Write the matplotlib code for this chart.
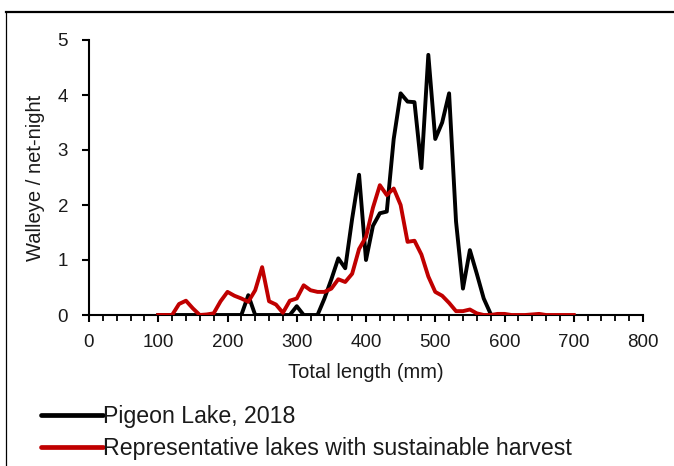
import matplotlib
matplotlib.use("Agg")
import matplotlib.pyplot as plt
from matplotlib.lines import Line2D
from matplotlib.ticker import MultipleLocator

plt.rcParams['font.family'] = ['Liberation Sans', 'DejaVu Sans']

# ----------------------------
# Data (walleye per net-night by 10 mm length bin)
# ----------------------------
pigeon_lengths = list(range(100, 590, 10))
pigeon_catch = [0, 0, 0, 0, 0, 0, 0, 0, 0, 0, 0, 0, 0,
                0.36, 0, 0, 0, 0, 0, 0,
                0.16, 0, 0, 0,
                0.3, 0.65, 1.03, 0.85, 1.75, 2.55, 1.0, 1.62, 1.85, 1.88,
                3.2, 4.03, 3.88, 3.87, 2.67, 4.73, 3.2, 3.5, 4.03, 1.7,
                0.48, 1.18, 0.75, 0.3, 0.02]

ref_lengths = list(range(100, 710, 10))
ref_catch = [0, 0, 0, 0.2, 0.26, 0.12, 0.0, 0.01, 0.03, 0.25,
             0.42, 0.35, 0.3, 0.24, 0.45, 0.87, 0.25, 0.19, 0.04, 0.26,
             0.3, 0.54, 0.45, 0.42, 0.42, 0.48, 0.65, 0.6, 0.75, 1.2,
             1.42, 1.95, 2.36, 2.18, 2.3, 2.0, 1.33, 1.35, 1.1, 0.7,
             0.42, 0.35, 0.22, 0.07, 0.07, 0.1, 0.03, 0.0, 0.0, 0.02,
             0.02, 0.0, 0.0, 0.0, 0.01, 0.02, 0.0, 0, 0, 0, 0]

labels = ['Pigeon Lake, 2018', 'Representative lakes with sustainable harvest']
colors_ = ['#000000', '#C00000']

W, H = 674, 466
fig = plt.figure(figsize=(W / 100, H / 100), dpi=100)

# chart area border (cropped Excel frame)
fig.add_artist(Line2D([6 / W, 1], [1 - 12 / H, 1 - 12 / H], color='black', lw=1.6))
fig.add_artist(Line2D([6 / W, 6 / W], [0, 1 - 12 / H], color='black', lw=0.9))

ax = fig.add_axes([89 / W, 1 - 315 / H, (643 - 89) / W, (315 - 40) / H])
ax.plot(pigeon_lengths, pigeon_catch, color=colors_[0], lw=2.8, solid_joinstyle='round', zorder=3)
ax.plot(ref_lengths, ref_catch, color=colors_[1], lw=2.8, solid_joinstyle='round', zorder=4)

ax.set_xlim(0, 800)
ax.set_ylim(0, 5)
ax.xaxis.set_major_locator(MultipleLocator(100))
ax.xaxis.set_minor_locator(MultipleLocator(20))
ax.yaxis.set_major_locator(MultipleLocator(1))

for side in ['top', 'right']:
    ax.spines[side].set_visible(False)
for side in ['left', 'bottom']:
    ax.spines[side].set_linewidth(1.5)

txt = '#1a1a1a'
ax.tick_params(axis='both', which='major', direction='out', length=5, width=1.5,
               labelsize=13.5, colors='black', labelcolor=txt)
ax.tick_params(axis='x', which='minor', direction='out', length=4, width=1.3)
ax.tick_params(axis='x', pad=9)
ax.tick_params(axis='y', pad=10)

ax.set_xlabel('Total length (mm)', fontsize=14.5, color=txt, labelpad=8)
ax.set_ylabel('Walleye / net-night', fontsize=14.5, color=txt, labelpad=9)

handles = [Line2D([], [], color=c, lw=3.4, solid_capstyle='round') for c in colors_]
fig.legend(handles, labels, loc='upper left', bbox_to_anchor=(32 / W, 1 - 396 / H),
           frameon=False, fontsize=16.7, handlelength=2.65, handletextpad=0.0,
           labelspacing=0.36, borderaxespad=0, labelcolor=txt)

fig.savefig('out.png', dpi=100)
